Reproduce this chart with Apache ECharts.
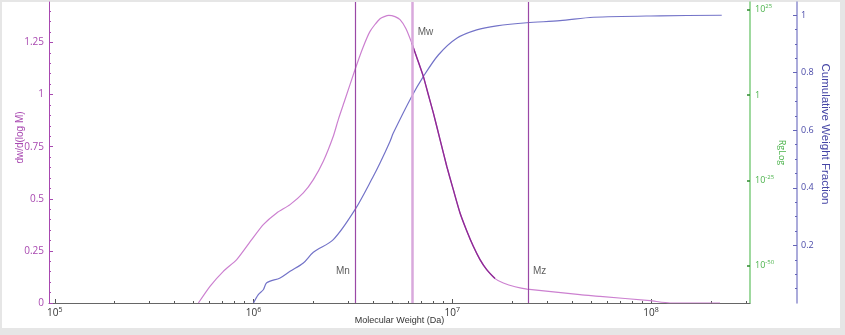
<!DOCTYPE html>
<html><head><meta charset="utf-8">
<script src="https://cdn.jsdelivr.net/npm/echarts@6/dist/echarts.min.js"></script>
<style>
html,body{margin:0;padding:0;background:#e6e6e6;width:845px;height:335px;overflow:hidden;}
#panel{position:absolute;left:2px;top:2px;width:838px;height:326px;background:#fff;}
#chart{position:absolute;left:0;top:0;width:845px;height:335px;}
</style></head><body>
<div id="panel"></div><div id="chart"></div>
<script>
// Differential distribution dw/d(log M)
const distM = [5.28e5, 6.04e5, 7.05e5, 8.23e5, 9.79e5, 1.12e6, 1.308e6, 1.527e6, 1.781e6, 2.0e6, 2.245e6, 2.52e6, 2.67e6, 2.887e6, 3.24e6, 3.535e6, 3.857e6, 4.33e6, 4.796e6, 5.15e6, 5.46e6, 5.85e6, 6.25e6, 6.69e6, 7.15e6, 7.58e6, 8.03e6, 8.68e6, 9.38e6, 1.012e7, 1.094e7, 1.182e7, 1.276e7, 1.379e7, 1.49e7, 1.641e7, 1.807e7, 2.07e7, 2.377e7, 4.39e7, 5.54e7, 9.89e7, 1.246e8, 2.225e8];
const distY = [0, 0.080, 0.152, 0.208, 0.304, 0.376, 0.432, 0.472, 0.528, 0.592, 0.680, 0.800, 0.880, 0.976, 1.119, 1.220, 1.303, 1.364, 1.380, 1.374, 1.359, 1.316, 1.248, 1.167, 1.087, 0.999, 0.912, 0.784, 0.656, 0.544, 0.432, 0.347, 0.272, 0.208, 0.160, 0.117, 0.096, 0.078, 0.067, 0.040, 0.032, 0.011, 0, 0];
// Cumulative weight fraction
const cumM = [1.0e6, 1.057e6, 1.12e6, 1.165e6, 1.36e6, 1.527e6, 1.781e6, 2.0e6, 2.52e6, 3.24e6, 4.007e6, 4.33e6, 4.86e6, 5.05e6, 6.25e6, 7.15e6, 8.51e6, 1.053e7, 1.327e7, 1.674e7, 2.37e7, 3.485e7, 5.13e7, 1.11e8, 2.269e8];
const cumY = [0, 0.029, 0.046, 0.070, 0.087, 0.110, 0.139, 0.176, 0.220, 0.324, 0.440, 0.486, 0.561, 0.590, 0.717, 0.786, 0.861, 0.919, 0.948, 0.962, 0.973, 0.980, 0.992, 0.997, 0.999];
// Molecular weight averages
const avgNames = ['Mn', 'Mw', 'Mz'];
const avgM = [3.27e6, 6.25e6, 2.377e7];
const avgLabelY = [0.15, 1.30, 0.15];
// Ticks
const xTickExps = [5, 6, 7, 8];
const xMinorMult = [2, 3, 4, 5, 6, 7, 8, 9];
const rgTickExps = [-50, -25, 0, 25];
const leftTicks = [0, 0.25, 0.5, 0.75, 1, 1.25];
const cumTicks = [0.2, 0.4, 0.6, 0.8, 1];
const highlightRange = [6.2e6, 1.66e7];

const lg = v => Math.log10(v);
const X_MIN = 4.971, X_MAX = 8.498;
const Y_MAX = 1.444, C_MAX = 1.045, RG_MIN = -60.9, RG_MAX = 27.3;

const xMinor = [];
xTickExps.concat([4]).forEach(e => xMinorMult.forEach(k => { const v = e + Math.log10(k); if (v > X_MIN && v < X_MAX) xMinor.push(v); }));
const leftMinor = []; for (let i = 1; i * 0.05 < Y_MAX; i++) { const v = +(i * 0.05).toFixed(2); if (Math.abs(v / 0.25 - Math.round(v / 0.25)) > 1e-6) leftMinor.push(v); }
const cumMinor = []; for (let i = 1; i * 0.05 < 1.0001; i++) { const v = +(i * 0.05).toFixed(2); if (Math.abs(v / 0.2 - Math.round(v / 0.2)) > 1e-6) cumMinor.push(v); }

const distData = distM.map((m, i) => [lg(m), distY[i]]);
const hiData = distM.map((m, i) => [m, distY[i]]).filter(d => d[0] >= highlightRange[0] && d[0] <= highlightRange[1]).map(d => [lg(d[0]), d[1]]);
const cumData = cumM.map((m, i) => [lg(m), cumY[i]]);

const FONT = '"Open Sans", "Noto Sans", sans-serif';
const FONT2 = '"Liberation Sans", Arial, sans-serif';
const PURPLE = '#a848b0', GREEN = '#4cb34c', BLUE = '#6565b8';
const supLabel = (color, size, supSize, raise) => ({
  b: { fontSize: size, color: color, fontFamily: FONT },
  s: { fontSize: supSize, color: color, fontFamily: FONT, padding: [0, 0, raise, 0] }
});

const chart = echarts.init(document.getElementById('chart'), null, { renderer: 'canvas' });
chart.setOption({
  animation: false,
  backgroundColor: 'transparent',
  textStyle: { fontFamily: FONT },
  grid: { left: 49, right: 95, top: 2, bottom: 32, containLabel: false, outerBoundsMode: 'none' },
  xAxis: [{
    type: 'value', min: X_MIN, max: X_MAX, position: 'bottom',
    name: 'Molecular Weight (Da)', nameLocation: 'middle', nameGap: 13, nameMoveOverlap: false,
    nameTextStyle: { color: '#333', fontSize: 9, fontFamily: FONT2 },
    axisLine: { show: true, onZero: false, lineStyle: { color: '#666', width: 1 } },
    axisTick: { show: true, inside: true, length: 4, customValues: xTickExps, lineStyle: { color: '#555' } },
    axisLabel: { show: true, customValues: xTickExps, margin: 3, formatter: v => '{b|10}{s|' + Math.round(v) + '}', rich: supLabel('#333', 10, 7, 8) },
    splitLine: { show: false }
  }, {
    type: 'value', min: X_MIN, max: X_MAX, position: 'bottom',
    axisLine: { show: false, onZero: false },
    axisTick: { show: true, inside: true, length: 2, customValues: xMinor, lineStyle: { color: '#555' } },
    axisLabel: { show: false }, splitLine: { show: false }
  }],
  yAxis: [{
    type: 'value', min: 0, max: Y_MAX, position: 'left',
    name: 'dw/d(log M)', nameLocation: 'middle', nameGap: 24, nameMoveOverlap: false,
    nameTextStyle: { color: PURPLE, fontSize: 10, fontFamily: FONT2, padding: [0, 0, 0, 30] },
    axisLine: { show: true, onZero: false, lineStyle: { color: PURPLE, width: 1 } },
    axisTick: { show: true, inside: true, length: 4, customValues: leftTicks, lineStyle: { color: PURPLE } },
    axisLabel: { customValues: leftTicks, color: PURPLE, fontSize: 10, margin: 5, fontFamily: FONT },
    splitLine: { show: false }
  }, {
    type: 'value', min: RG_MIN, max: RG_MAX, position: 'right', offset: 0,
    name: 'RgLog', nameLocation: 'middle', nameGap: 27, nameRotate: -90, nameMoveOverlap: false,
    nameTextStyle: { color: GREEN, fontSize: 9, fontFamily: FONT },
    axisLine: { show: true, onZero: false, lineStyle: { color: '#7fcc7f', width: 1.5 } },
    axisTick: { show: true, inside: true, length: 3, customValues: rgTickExps, lineStyle: { color: '#2c8a2c', width: 1.5 } },
    axisLabel: { customValues: rgTickExps, margin: 5, formatter: v => Math.round(v) === 0 ? '{b|1}' : '{b|10}{s|' + Math.round(v) + '}', rich: supLabel(GREEN, 9, 6, 7) },
    splitLine: { show: false }
  }, {
    type: 'value', min: 0, max: C_MAX, position: 'right', offset: 47,
    name: 'Cumulative Weight Fraction', nameLocation: 'middle', nameGap: 22, nameRotate: -90, nameMoveOverlap: false,
    nameTextStyle: { color: '#4545a5', fontSize: 11.5, fontFamily: FONT2, padding: [0, 37, 0, 0] },
    axisLine: { show: true, onZero: false, lineStyle: { color: '#8f8fcf', width: 1.5 } },
    axisTick: { show: true, inside: true, length: 4, customValues: cumTicks, lineStyle: { color: BLUE } },
    axisLabel: { customValues: cumTicks, color: '#4a4aa8', fontSize: 9, margin: 4, fontFamily: FONT },
    splitLine: { show: false }
  }, {
    type: 'value', min: 0, max: Y_MAX, position: 'left', offset: 0,
    axisLine: { show: false, onZero: false },
    axisTick: { show: true, inside: true, length: 2, customValues: leftMinor, lineStyle: { color: PURPLE } },
    axisLabel: { show: false }, splitLine: { show: false }
  }, {
    type: 'value', min: 0, max: C_MAX, position: 'right', offset: 47,
    axisLine: { show: false, onZero: false },
    axisTick: { show: true, inside: true, length: 2, customValues: cumMinor, lineStyle: { color: BLUE } },
    axisLabel: { show: false }, splitLine: { show: false }
  }],
  series: [{
    name: 'dist', type: 'line', xAxisIndex: 0, yAxisIndex: 0, data: distData,
    smooth: 0.2, showSymbol: false, silent: true,
    lineStyle: { color: '#cc80d0', width: 1.2 },
    markLine: {
      silent: true, symbol: 'none', label: { show: false },
      data: [
        { xAxis: lg(avgM[0]), lineStyle: { color: '#9a48a6', width: 1.2, type: 'solid' } },
        { xAxis: lg(avgM[1]), lineStyle: { color: '#d9a9dc', width: 2.5, type: 'solid' } },
        { xAxis: lg(avgM[2]), lineStyle: { color: '#9a48a6', width: 1.2, type: 'solid' } }
      ]
    },
    z: 3
  }, {
    name: 'distHi', type: 'line', xAxisIndex: 0, yAxisIndex: 0, data: hiData,
    smooth: 0.2, showSymbol: false, silent: true,
    lineStyle: { color: '#8e2a96', width: 1.4 }, z: 4
  }, {
    name: 'cum', type: 'line', xAxisIndex: 0, yAxisIndex: 2, data: cumData,
    smooth: 0.3, showSymbol: false, silent: true,
    lineStyle: { color: '#7373c8', width: 1.2 }, z: 3
  }, {
    name: 'avgLabels', type: 'scatter', xAxisIndex: 0, yAxisIndex: 0, symbolSize: 0, silent: true,
    data: avgM.map((m, i) => ({ value: [lg(m), avgLabelY[i]], name: avgNames[i],
      label: { position: i === 0 ? 'left' : 'right' } })),
    label: { show: true, formatter: p => p.name, color: '#333', fontSize: 10, distance: 6, fontFamily: FONT2 },
    z: 5
  }]
});
</script>
</body></html>
